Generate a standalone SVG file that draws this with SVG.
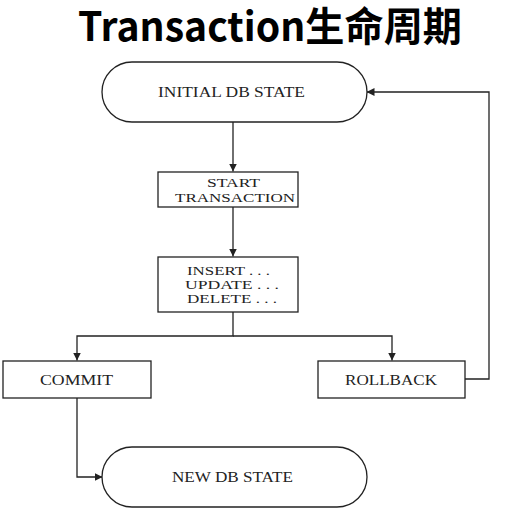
<svg xmlns="http://www.w3.org/2000/svg" width="505" height="521" viewBox="0 0 505 521">
<style>
.shape{fill:#fff;stroke:#222;stroke-width:1.3}
.lbl{font-family:"Liberation Serif","Times New Roman",serif;font-size:15px;fill:#222}
.sm{font-size:12.6px}
.conn{fill:none;stroke:#222;stroke-width:1.3}
.title{font-family:"Noto Sans CJK SC","Noto Sans",sans-serif;font-weight:bold;font-size:40px;fill:#000}
</style>
<defs>
<marker id="arr" viewBox="0 0 10 10" refX="10" refY="5" markerWidth="8" markerHeight="8" markerUnits="userSpaceOnUse" orient="auto">
<path d="M0,0 L10,5 L0,10 z" fill="#222"/>
</marker>
</defs>
<rect width="505" height="521" fill="#fff"/>
<text class="title" x="78" y="41" textLength="384" lengthAdjust="spacingAndGlyphs">Transaction生命周期</text>
<g id="connectors">
<line class="conn" x1="233" y1="122" x2="233" y2="171.5" marker-end="url(#arr)"/>
<line class="conn" x1="233" y1="207" x2="233" y2="256.5" marker-end="url(#arr)"/>
<polyline class="conn" points="233,312 233,336 77,336 77,360.5" marker-end="url(#arr)"/>
<polyline class="conn" points="233,336 392,336 392,360.5" marker-end="url(#arr)"/>
<polyline class="conn" points="465,379 489,379 489,92 366.5,92" marker-end="url(#arr)"/>
<polyline class="conn" points="77,398 77,477 102.5,477" marker-end="url(#arr)"/>
</g>
<g id="initial">
<rect class="shape" x="102" y="62" width="265" height="60" rx="30" ry="30"/>
<text class="lbl" x="158" y="97" textLength="147" lengthAdjust="spacingAndGlyphs">INITIAL DB STATE</text>
</g>
<g id="start">
<rect class="shape" x="158" y="172" width="140" height="35"/>
<text class="lbl sm" x="207" y="187" textLength="53" lengthAdjust="spacingAndGlyphs">START</text>
<text class="lbl sm" x="175" y="202" textLength="120" lengthAdjust="spacingAndGlyphs">TRANSACTION</text>
</g>
<g id="ops">
<rect class="shape" x="158" y="257" width="140" height="55"/>
<text class="lbl sm" x="187" y="275" textLength="83" lengthAdjust="spacingAndGlyphs">INSERT . . .</text>
<text class="lbl sm" x="185" y="289" textLength="94" lengthAdjust="spacingAndGlyphs">UPDATE . . .</text>
<text class="lbl sm" x="187" y="303" textLength="90" lengthAdjust="spacingAndGlyphs">DELETE . . .</text>
</g>
<g id="commit">
<rect class="shape" x="3" y="361" width="148" height="37"/>
<text class="lbl" x="40" y="385" textLength="73" lengthAdjust="spacingAndGlyphs">COMMIT</text>
</g>
<g id="rollback">
<rect class="shape" x="318" y="361" width="147" height="37"/>
<text class="lbl" x="345" y="385" textLength="92" lengthAdjust="spacingAndGlyphs">ROLLBACK</text>
</g>
<g id="newstate">
<rect class="shape" x="102" y="447" width="265" height="60" rx="30" ry="30"/>
<text class="lbl" x="172" y="482" textLength="121" lengthAdjust="spacingAndGlyphs">NEW DB STATE</text>
</g>
</svg>
